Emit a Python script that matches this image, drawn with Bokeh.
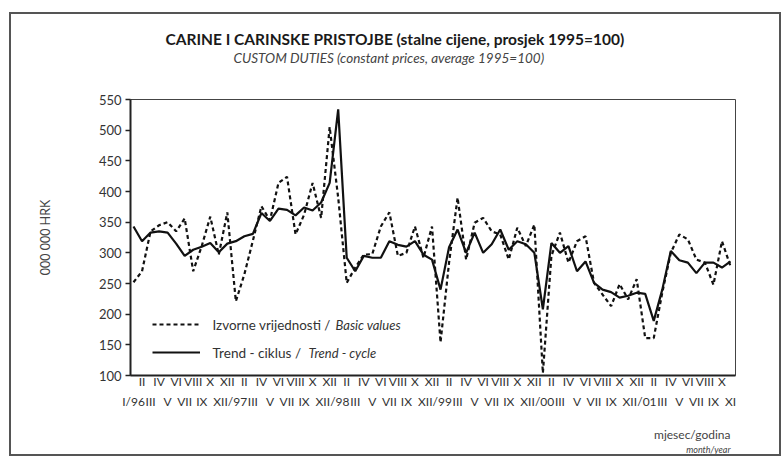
from bokeh.plotting import figure
from bokeh.models import FixedTicker, LinearAxis, Range1d, Label, Legend, LegendItem, Title
from bokeh.embed import file_html
from bokeh.resources import INLINE

# ---- data -------------------------------------------------------------
roman = ["I", "II", "III", "IV", "V", "VI", "VII", "VIII", "IX", "X", "XI", "XII"]
years = ["96", "97", "98", "99", "00", "01"]
n_months = 71  # I/96 .. XI/01

basic_values = [252, 270, 335, 345, 350, 335, 356, 270, 311, 359,
                297, 366, 221, 265, 320, 376, 353, 414, 424, 330,
                362, 414, 357, 505, 390, 251, 276, 297, 298, 343,
                366, 295, 300, 343, 292, 343, 154, 284, 390, 289,
                349, 357, 335, 330, 289, 341, 311, 346, 104, 295,
                333, 284, 319, 327, 251, 232, 213, 249, 224, 257,
                161, 161, 235, 300, 330, 322, 289, 284, 248, 319, 278]

trend_cycle = [343, 319, 333, 335, 333, 315, 295, 305, 310, 316,
               301, 315, 319, 327, 331, 365, 352, 372, 370, 361,
               374, 369, 382, 414, 534, 292, 270, 295, 292, 292,
               319, 313, 310, 319, 297, 289, 240, 309, 338, 300,
               333, 300, 314, 338, 305, 319, 314, 300, 208, 316,
               300, 311, 270, 286, 251, 240, 236, 227, 230, 235,
               233, 189, 240, 303, 288, 284, 267, 284, 284, 276, 286]

y_ticks = [100, 150, 200, 250, 300, 350, 400, 450, 500, 550]

# ---- helpers ----------------------------------------------------------
xs = list(range(n_months))
month_labels = []
for i in xs:
    m = i % 12
    lab = roman[m]
    if m == 0:
        lab = lab + "/" + years[i // 12]
    month_labels.append(lab)

FONT = "Lato"
TXT = "#333333"

p = figure(width=768, height=440, output_backend="svg", toolbar_location=None,
           x_range=Range1d(-0.352, 70.586), y_range=Range1d(100, 550),
           min_border_left=119, min_border_right=44, min_border_top=85,
           min_border_bottom=78, title=None)
p.margin = (14, 0, 0, 11)
p.styles = {"box-shadow": "0 0 0 2px #555555"}
p.background_fill_color = "white"
p.border_fill_color = "white"
p.xgrid.visible = False
p.ygrid.visible = False
p.outline_line_color = "#444444"
p.outline_line_width = 1

# y axis
ya = p.yaxis[0]
ya.ticker = FixedTicker(ticks=y_ticks)
ya.axis_line_width = 2
ya.axis_line_color = "#222222"
ya.major_tick_in = 0
ya.major_tick_out = 5
ya.major_tick_line_width = 1.5
ya.major_tick_line_color = "#222222"
ya.minor_tick_line_color = None
ya.major_label_text_font = FONT
ya.major_label_text_font_size = "13px"
ya.major_label_text_color = TXT
ya.major_label_standoff = 4
ya.axis_label = "000 000 HRK"
ya.axis_label_text_font = FONT
ya.axis_label_text_font_size = "12.5px"
ya.axis_label_text_font_style = "normal"
ya.axis_label_text_color = "#444444"
ya.axis_label_standoff = 43

# x axis, upper row
xa = p.xaxis[0]
odd_idx = [i for i in xs if i % 2 == 1]
even_idx = [i for i in xs if i % 2 == 0]
xa.ticker = FixedTicker(ticks=odd_idx)
xa.major_label_overrides = {i: month_labels[i] for i in odd_idx}
xa.axis_line_width = 2
xa.axis_line_color = "#222222"
xa.major_tick_line_color = None
xa.minor_tick_line_color = None
xa.major_tick_in = 0
xa.major_tick_out = 0
xa.major_label_text_font = FONT
xa.major_label_text_font_size = "12px"
xa.major_label_text_color = TXT
xa.major_label_standoff = -2

# x axis, lower row
xb = LinearAxis(ticker=FixedTicker(ticks=even_idx),
                major_label_overrides={i: month_labels[i] for i in even_idx})
xb.axis_line_color = None
xb.major_tick_line_color = None
xb.minor_tick_line_color = None
xb.major_tick_in = 0
xb.major_tick_out = 0
xb.major_label_text_font = FONT
xb.major_label_text_font_size = "12px"
xb.major_label_text_color = TXT
xb.major_label_standoff = 2
p.add_layout(xb, "below")

# series
r1 = p.line(xs, basic_values, line_color="#111111", line_width=2.2, line_dash="4 3")
r2 = p.line(xs, trend_cycle, line_color="#111111", line_width=2.2)

legend = Legend(items=[LegendItem(label=" ", renderers=[r1]),
                       LegendItem(label=" ", renderers=[r2])],
                location=(22, 9), glyph_width=48, glyph_height=28,
                label_height=28, label_width=0, label_standoff=0,
                padding=0, margin=0, spacing=0,
                border_line_color=None, background_fill_alpha=0)
p.add_layout(legend)

def lab(x, y, text, size="13px", style="normal", align="left", color=TXT):
    p.add_layout(Label(x=x, y=y, x_units="screen", y_units="screen", text=text,
                       text_font=FONT, text_font_size=size, text_font_style=style,
                       text_align=align, text_baseline="middle", text_color=color))

lab(82, 51, "Izvorne vrijednosti /", size="13.4px")
lab(205, 51, "Basic values", style="italic")
lab(82, 23, "Trend - ciklus /", size="13.6px")
lab(178, 23, "Trend - cycle", style="italic")

# titles above (first added is closest to the frame)
p.add_layout(Title(text=" ", text_font_size="1px", standoff=31), "above")
p.add_layout(Title(text="CUSTOM DUTIES (constant prices, average 1995=100)",
                   align="left", offset=103, standoff=0,
                   text_font=FONT, text_font_size="13.5px", text_font_style="italic",
                   text_color="#444444"), "above")
p.add_layout(Title(text="CARINE I CARINSKE PRISTOJBE (stalne cijene, prosjek 1995=100)",
                   align="left", offset=35, standoff=0,
                   text_font=FONT, text_font_size="15.5px", text_font_style="bold",
                   text_color="#1a1a1a"), "above")

# axis caption below
p.add_layout(Title(text=" ", text_font_size="1px", standoff=10), "below")
p.add_layout(Title(text="mjesec/godina", align="right", offset=5, standoff=0,
                   text_font=FONT, text_font_size="12px", text_font_style="normal",
                   text_color="#444444"), "below")
p.add_layout(Title(text="month/year", align="right", offset=5, standoff=0,
                   text_font=FONT, text_font_size="9px", text_font_style="italic",
                   text_color="#444444"), "below")

open("out.html", "w").write(file_html(p, INLINE))
